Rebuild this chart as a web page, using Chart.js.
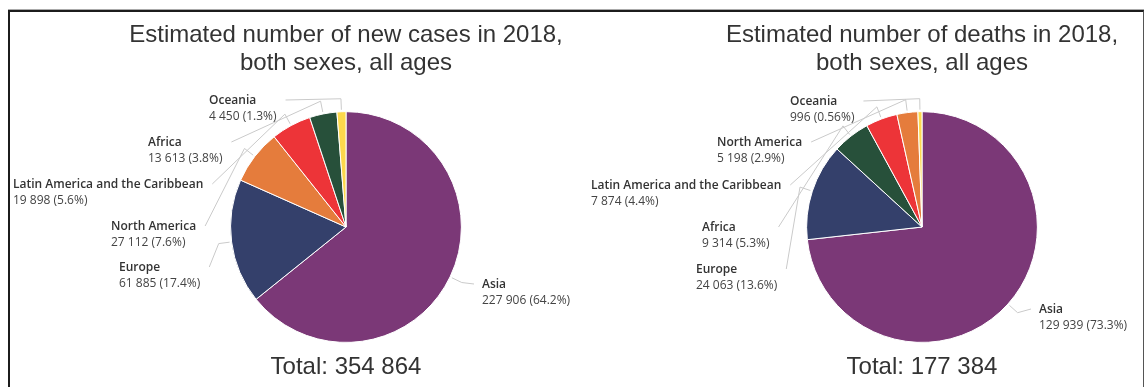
<!DOCTYPE html>
<html>
<head>
<meta charset="utf-8">
<script src="https://cdn.jsdelivr.net/npm/chart.js@4.4.1/dist/chart.umd.min.js"></script>
<style>
  html, body { margin: 0; padding: 0; background: #fff; }
  #frame {
    position: absolute; left: 8px; top: 10px; width: 1133px; height: 390px;
    border-left: 2px solid #1c1c1c; border-top: 2px solid #1c1c1c; border-right: 1px solid #555;
    box-shadow: 0 -1px 0 #aaa;
  }
  .wrap { position: absolute; top: 0; width: 572px; height: 387px; }
</style>
</head>
<body>
<div id="frame"></div>
<div class="wrap" style="left:0"><canvas id="cases" width="572" height="387"></canvas></div>
<div class="wrap" style="left:572px"><canvas id="deaths" width="572" height="387"></canvas></div>
<script>
const casesTitle = ['Estimated number of new cases in 2018,', 'both sexes, all ages'];
const casesLabels = ['Asia', 'Europe', 'North America', 'Latin America and the Caribbean', 'Africa', 'Oceania'];
const casesValues = [227906, 61885, 27112, 19898, 13613, 4450];

const deathsTitle = ['Estimated number of deaths in 2018,', 'both sexes, all ages'];
const deathsLabels = ['Asia', 'Europe', 'Africa', 'Latin America and the Caribbean', 'North America', 'Oceania'];
const deathsValues = [129939, 24063, 9314, 7874, 5198, 996];

const regionColors = {
  'Asia': '#7B3877',
  'Europe': '#34406B',
  'North America': '#E57C3C',
  'Latin America and the Caribbean': '#ED3438',
  'Africa': '#27503A',
  'Oceania': '#FDD84C'
};

// where the label text sits (canvas px), one per slice
const casesLabelPos = [
  {x: 482, y: 285, side: 'right'},
  {x: 119, y: 268},
  {x: 111, y: 227},
  {x: 13, y: 185},
  {x: 148, y: 143},
  {x: 209, y: 101}
];
const deathsLabelPos = [
  {x: 467, y: 310, side: 'right'},
  {x: 124, y: 270},
  {x: 130, y: 228},
  {x: 19, y: 186},
  {x: 145, y: 143},
  {x: 218, y: 102}
];

function fmt(v) {
  return v.toString().replace(/\B(?=(\d{3})+(?!\d))/g, ' ');
}
function pctText(v, total) {
  const p = v / total * 100;
  return p < 1 ? p.toFixed(2) : p.toFixed(1);
}

const leaderLabels = {
  id: 'leaderLabels',
  afterDatasetsDraw(chart, args, opts) {
    const ctx = chart.ctx;
    const meta = chart.getDatasetMeta(0);
    const values = chart.data.datasets[0].data;
    const total = values.reduce((a, b) => a + b, 0);
    meta.data.forEach((arc, i) => {
      const pos = opts.positions[i];
      const name = chart.data.labels[i];
      const line2 = fmt(values[i]) + ' (' + pctText(values[i], total) + '%)';
      ctx.save();
      ctx.font = '600 12px "Open Sans"';
      const w1 = ctx.measureText(name).width;
      ctx.font = '12px "Open Sans"';
      const w2 = ctx.measureText(line2).width;

      const mid = (arc.startAngle + arc.endAngle) / 2;
      const r = arc.outerRadius;
      const pt = k => [arc.x + Math.cos(mid) * (r + k), arc.y + Math.sin(mid) * (r + k)];
      const ax = pos.side === 'right' ? pos.x - 8 : pos.x + Math.max(w1, w2) + 9;
      const ay = pos.y - 1;
      const a = pt(2), b = pt(13);
      ctx.strokeStyle = '#cacaca';
      ctx.lineWidth = 1;
      ctx.beginPath();
      ctx.moveTo(a[0], a[1]);
      ctx.lineTo(b[0], b[1]);
      ctx.lineTo(ax, ay);
      ctx.stroke();

      ctx.textAlign = 'left';
      ctx.textBaseline = 'middle';
      ctx.fillStyle = '#333';
      ctx.font = '600 12px "Open Sans"';
      ctx.fillText(name, pos.x, pos.y);
      ctx.fillStyle = '#444';
      ctx.font = '12px "Open Sans"';
      ctx.fillText(line2, pos.x, pos.y + 16);
      ctx.restore();
    });
  }
};

function makePie(id, title, labels, values, positions, padL) {
  const total = values.reduce((a, b) => a + b, 0);
  return new Chart(document.getElementById(id), {
    type: 'pie',
    data: {
      labels: labels,
      datasets: [{
        data: values,
        backgroundColor: labels.map(l => regionColors[l]),
        borderColor: '#fff',
        borderWidth: 1
      }]
    },
    options: {
      responsive: false,
      animation: false,
      layout: { padding: { left: padL, right: 0, top: 0, bottom: 0 } },
      plugins: {
        legend: { display: false },
        tooltip: { enabled: false },
        title: {
          display: true,
          text: title,
          color: '#333',
          font: { family: '"Liberation Sans", Arial', size: 24, weight: 'normal', lineHeight: 1.17 },
          padding: { top: 21, bottom: 34 }
        },
        subtitle: {
          display: true,
          position: 'bottom',
          text: 'Total: ' + fmt(total),
          color: '#333',
          font: { family: '"Liberation Sans", Arial', size: 24, weight: 'normal', lineHeight: 1.17 },
          padding: { top: 10, bottom: 6 }
        },
        leaderLabels: { positions: positions }
      }
    },
    plugins: [leaderLabels]
  });
}

makePie('cases', casesTitle, casesLabels, casesValues, casesLabelPos, 120);
makePie('deaths', deathsTitle, deathsLabels, deathsValues, deathsLabelPos, 128);
</script>
</body>
</html>
